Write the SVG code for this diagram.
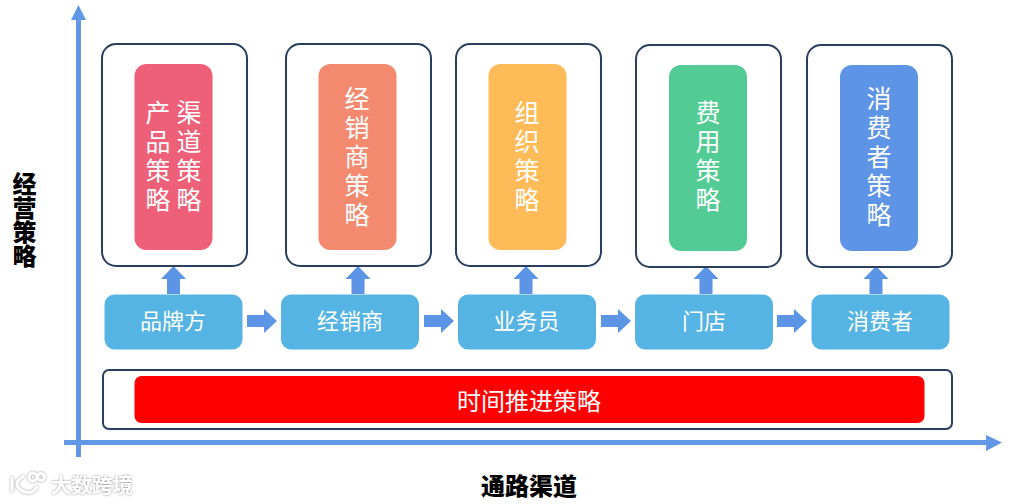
<svg xmlns="http://www.w3.org/2000/svg" width="1020" height="504" viewBox="0 0 1020 504">
<defs>
<filter id="wm" x="-10%" y="-10%" width="120%" height="120%"><feDropShadow dx="0" dy="0" stdDeviation="1.300" flood-color="#8a8a8a" flood-opacity="1"/></filter>
</defs>
<style>
text{font-family:"Noto Sans CJK SC","Noto Sans",sans-serif;fill:#fff;text-anchor:middle}
.outer{fill:#fff;stroke:#2a3f5f;stroke-width:2}
.inner{stroke:none}
.v{font-size:25px}
.step{fill:#56b4e4}
.lbl{font-size:22px;dominant-baseline:central}
.axis{fill:#6197e4}
.blk{fill:#5c94e6}
.title{font-size:24px;font-weight:900;fill:#000}
</style>
<g id="connectors">
<path class="axis" d="M76 457V20H71L78.500 5L86 20H81V457Z"/>
<path class="axis" d="M64 440H986V435L1002 442.500L986 451V445H64Z"/>
<path class="blk" d="M167 294V279H161L173.500 266L186 279H180V294Z"/>
<path class="blk" d="M351.500 294V279H345.500L358 266L370.500 279H364.500V294Z"/>
<path class="blk" d="M519.500 294V279H513.500L526 266L538.500 279H532.500V294Z"/>
<path class="blk" d="M699.500 294V279H693.500L706 266L718.500 279H712.500V294Z"/>
<path class="blk" d="M869.500 294V279H863.500L876 266L888.500 279H882.500V294Z"/>
<path class="blk" d="M247 315H264V309L277 321L264 333V327H247Z"/>
<path class="blk" d="M424 315H441V309L454 321L441 333V327H424Z"/>
<path class="blk" d="M601 315H618V309L631 321L618 333V327H601Z"/>
<path class="blk" d="M777 315H794V309L807 321L794 333V327H777Z"/>
</g>
<g id="node-channel-product"><rect class="outer" x="102" y="44" width="145" height="222" rx="14"/><rect class="inner" x="134.500" y="64" width="78" height="186" rx="12" fill="#ee6077"/>
<text class="v"><tspan x="158" y="122">产</tspan><tspan x="158" y="151">品</tspan><tspan x="158" y="180">策</tspan><tspan x="158" y="209">略</tspan><tspan x="189" y="122">渠</tspan><tspan x="189" y="151">道</tspan><tspan x="189" y="180">策</tspan><tspan x="189" y="209">略</tspan></text></g>
<g id="node-dealer-strategy"><rect class="outer" x="286" y="44" width="145" height="222" rx="14"/><rect class="inner" x="318.500" y="64" width="78" height="186" rx="12" fill="#f38a70"/>
<text class="v"><tspan x="357" y="108">经</tspan><tspan x="357" y="137">销</tspan><tspan x="357" y="166">商</tspan><tspan x="357" y="195">策</tspan><tspan x="357" y="224">略</tspan></text></g>
<g id="node-org-strategy"><rect class="outer" x="456" y="44" width="145" height="222" rx="14"/><rect class="inner" x="488.500" y="64" width="78" height="186" rx="12" fill="#ffbb58"/>
<text class="v"><tspan x="527" y="122">组</tspan><tspan x="527" y="151">织</tspan><tspan x="527" y="180">策</tspan><tspan x="527" y="209">略</tspan></text></g>
<g id="node-cost-strategy"><rect class="outer" x="636" y="45" width="145" height="222" rx="14"/><rect class="inner" x="669" y="65" width="78" height="186" rx="12" fill="#53cb94"/>
<text class="v"><tspan x="708" y="122">费</tspan><tspan x="708" y="151">用</tspan><tspan x="708" y="180">策</tspan><tspan x="708" y="209">略</tspan></text></g>
<g id="node-consumer-strategy"><rect class="outer" x="807" y="45" width="145" height="222" rx="14"/><rect class="inner" x="840" y="65" width="78" height="186" rx="12" fill="#5e94e6"/>
<text class="v"><tspan x="879" y="108">消</tspan><tspan x="879" y="137">费</tspan><tspan x="879" y="166">者</tspan><tspan x="879" y="195">策</tspan><tspan x="879" y="224">略</tspan></text></g>
<g id="node-brand"><rect class="step" x="104.500" y="294.500" width="138" height="55" rx="10"/><text class="lbl" x="173" y="319">品牌方</text></g>
<g id="node-dealer"><rect class="step" x="281" y="294.500" width="138" height="55" rx="10"/><text class="lbl" x="350" y="319">经销商</text></g>
<g id="node-sales"><rect class="step" x="458" y="294.500" width="138" height="55" rx="10"/><text class="lbl" x="526.500" y="319">业务员</text></g>
<g id="node-store"><rect class="step" x="635" y="294.500" width="138" height="55" rx="10"/><text class="lbl" x="704" y="319">门店</text></g>
<g id="node-consumer"><rect class="step" x="811.500" y="294.500" width="138" height="55" rx="10"/><text class="lbl" x="880" y="319">消费者</text></g>
<g id="node-time"><rect class="outer" x="103" y="370" width="849" height="59" rx="6"/><rect x="134.500" y="376" width="790" height="47" rx="7" fill="#ff0000"/><text x="529" y="399.500" font-size="24" dominant-baseline="central">时间推进策略</text></g>
<g id="label-y"><text class="title"><tspan x="24.500" y="193">经</tspan><tspan x="24.500" y="217">营</tspan><tspan x="24.500" y="241">策</tspan><tspan x="24.500" y="265">略</tspan></text></g>
<g id="label-x"><text class="title" x="529" y="495">通路渠道</text></g>
<g id="watermark" filter="url(#wm)"><g fill="none" stroke="#fff" stroke-width="3"><path d="M12 477V492M24 476C14 482 15 488 25 492C32 494 36 490 37 486"/><circle cx="33" cy="477" r="4"/><circle cx="41" cy="477" r="3.500"/></g><text x="92" y="493" font-size="20.500" font-weight="700">大数跨境</text></g>
</svg>
